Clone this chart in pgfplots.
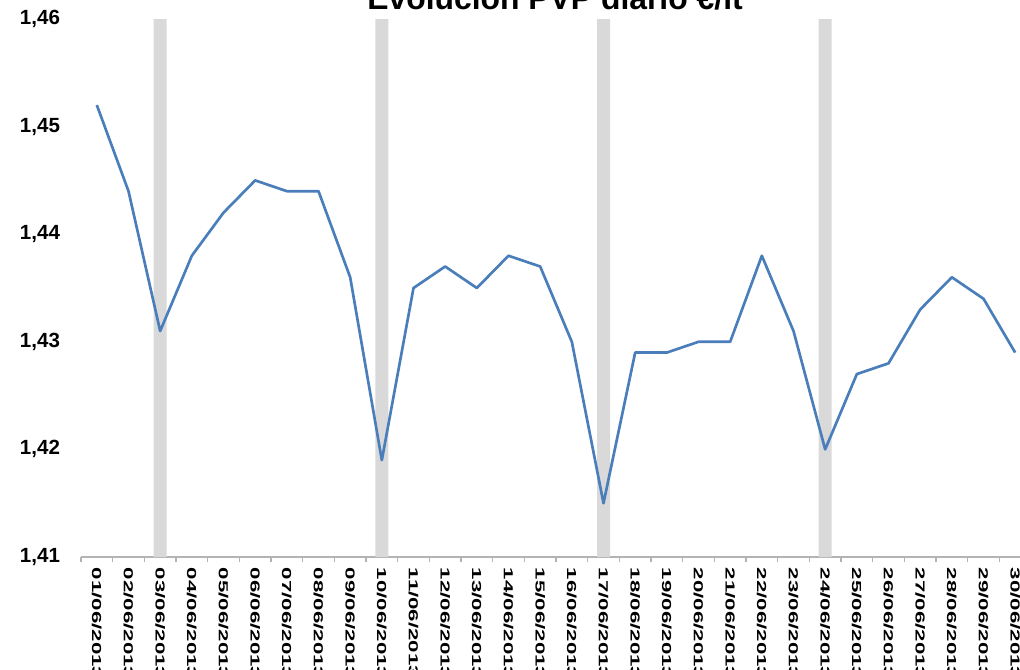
\documentclass[border=0pt]{standalone}
\usepackage{pgfplots}
\pgfplotsset{compat=1.18}
\usepackage{fontspec}
\setmainfont{Liberation Sans}
\definecolor{lineblue}{RGB}{74,126,187}
\definecolor{bargray}{RGB}{217,217,217}
\definecolor{axgray}{RGB}{179,179,179}
\newcommand{\lab}[1]{\scalebox{1.7}[1]{#1}}
\begin{document}
\begin{tikzpicture}
\useasboundingbox (0,0) rectangle (765pt,501.75pt);
\clip (0,0) rectangle (765pt,501.75pt);
\begin{axis}[
  at={(60.75pt,84pt)}, anchor=south west,
  scale only axis, width=712.5pt, height=403.5pt,
  xmin=0.5, xmax=30.5, ymin=1.41, ymax=1.46,
  axis x line*=bottom, axis y line*=left,
  x axis line style={axgray, line width=0.8pt, -},
  y axis line style={draw=none},
  ytick={1.41,1.42,1.43,1.44,1.45,1.46},
  ytick style={draw=none},
  yticklabel style={font=\bfseries\fontsize{15.4}{16}\selectfont, xshift=-8pt},
  /pgf/number format/.cd, use comma, fixed, fixed zerofill, precision=2, assume math mode=true,
  /pgfplots/.cd,
  xtick={1,...,30},
  major x tick style={draw=none},
  minor xtick={0.5,1.5,...,30.5},
  minor x tick style={axgray, line width=0.8pt},
  tick align=outside,
  minor tick length=4pt,
  xticklabels={\lab{01/06/2013},\lab{02/06/2013},\lab{03/06/2013},\lab{04/06/2013},\lab{05/06/2013},\lab{06/06/2013},\lab{07/06/2013},\lab{08/06/2013},\lab{09/06/2013},\lab{10/06/2013},\lab{11/06/2013},\lab{12/06/2013},\lab{13/06/2013},\lab{14/06/2013},\lab{15/06/2013},\lab{16/06/2013},\lab{17/06/2013},\lab{18/06/2013},\lab{19/06/2013},\lab{20/06/2013},\lab{21/06/2013},\lab{22/06/2013},\lab{23/06/2013},\lab{24/06/2013},\lab{25/06/2013},\lab{26/06/2013},\lab{27/06/2013},\lab{28/06/2013},\lab{29/06/2013},\lab{30/06/2013}},
  xticklabel style={font=\bfseries\fontsize{9.8}{10}\selectfont, rotate=-90, anchor=west, inner xsep=3.75pt, inner ysep=0pt},
  clip=true,
]
\addplot[ybar, bar width=9.75pt, bar shift=0pt, fill=bargray, draw=none] coordinates {(3,1.46) (10,1.46) (17,1.46) (24,1.46)};
\addplot[lineblue, line width=2pt, mark=none, line join=round] coordinates {
(1,1.452) (2,1.444) (3,1.431) (4,1.438) (5,1.442) (6,1.445) (7,1.444) (8,1.444) (9,1.436) (10,1.419)
(11,1.435) (12,1.437) (13,1.435) (14,1.438) (15,1.437) (16,1.430) (17,1.415) (18,1.429) (19,1.429) (20,1.430)
(21,1.430) (22,1.438) (23,1.431) (24,1.420) (25,1.427) (26,1.428) (27,1.433) (28,1.436) (29,1.434) (30,1.429)};
\end{axis}
\node[anchor=base, font=\bfseries\fontsize{23.9}{26}\selectfont, inner sep=0pt] at (416.25pt,494.25pt) {Evolución PVP diario €/lt};
\end{tikzpicture}
\end{document}
